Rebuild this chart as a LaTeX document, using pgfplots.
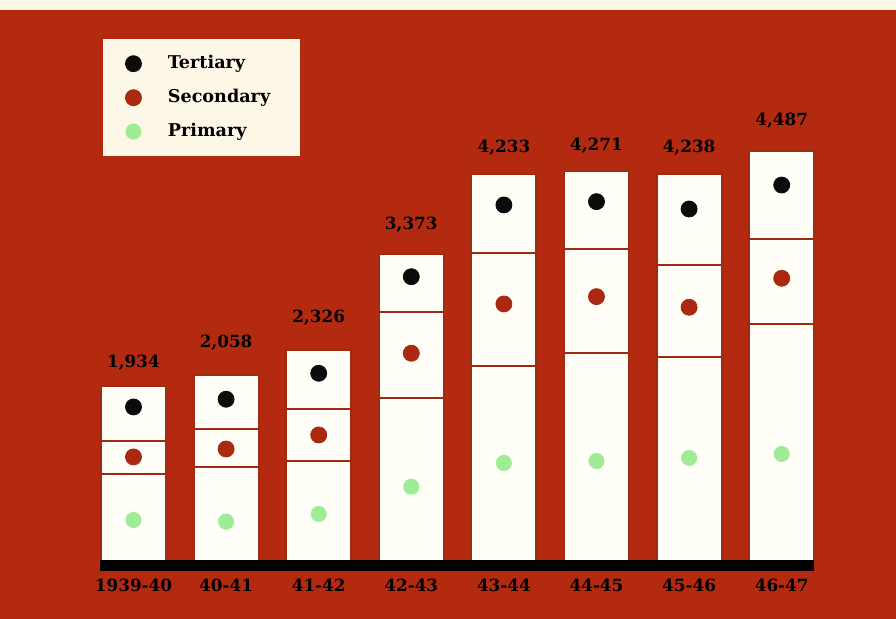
\documentclass[border=0pt]{standalone}
\usepackage{pgfplots}
\pgfplotsset{compat=1.18}
\usepackage{pgfplotstable}
\usepackage{fontspec}
\setmainfont{DejaVu Serif}
\definecolor{bgred}{RGB}{180,42,16}
\definecolor{cream}{RGB}{252,247,230}
\definecolor{barfill}{RGB}{255,254,247}
\definecolor{sepred}{RGB}{160,42,18}
\definecolor{dotred}{RGB}{172,40,16}
\definecolor{dotgreen}{RGB}{160,236,150}
\definecolor{dotblack}{RGB}{12,10,10}

% segment values (Primary, Secondary, Tertiary)
\pgfplotstableread{
x P S T
0 986 357 591
1 1061 409 588
2 1130 556 640
3 1805 938 630
4 2155 1227 851
5 2293 1126 852
6 2256 993 989
7 2607 920 960
}\segs

% dot positions inside the segments
\pgfplotstableread{
x T S P
0 1711 1170 487
1 1795 1256 469
2 2076 1408 552
3 3122 2293 848
4 3899 2827 1105
5 3935 2906 1126
6 3855 2791 1159
7 4115 3105 1202
}\dotpos

% total labels
\pgfplotstableread{
x y lab
0 2188 1,934
1 2404 2,058
2 2675 2,326
3 3682 3,373
4 4522 4,233
5 4538 4,271
6 4516 4,238
7 4809 4,487
}\totals

% category labels
\pgfplotstableread{
x y lab
0 -222 1939-40
1 -222 40-41
2 -222 41-42
3 -222 42-43
4 -222 43-44
5 -222 44-45
6 -222 45-46
7 -222 46-47
}\cats

\pgfplotsset{base/.style={scale only axis, width=448pt, height=309.5pt,
  xmin=-1.4417, xmax=8.2343, ymin=-585, ymax=6119, hide axis, clip=false}}
\newcommand{\lblfont}{\fontsize{8.4}{10}\selectfont\bfseries}
\newcommand{\legfont}{\fontsize{8.8}{10}\selectfont\bfseries}

\begin{document}
\begin{tikzpicture}
\fill[bgred] (0,0) rectangle (448pt,309.5pt);
\fill[cream] (0,304.5pt) rectangle (448pt,309.5pt);
\begin{axis}[base, ybar stacked, bar width=32.5pt]
\addplot[fill=barfill, draw=sepred, line width=1pt] table[x=x,y=P]{\segs};
\addplot[fill=barfill, draw=sepred, line width=1pt] table[x=x,y=S]{\segs};
\addplot[fill=barfill, draw=sepred, line width=1pt] table[x=x,y=T]{\segs};
\end{axis}
\begin{axis}[base,
  legend style={at={(0.1146,0.9381)}, anchor=north west, fill=cream, draw=none,
    font=\legfont, inner xsep=11pt, inner ysep=8.5pt, row sep=9pt,
    nodes={inner sep=0pt, text height=6.2pt, text depth=1.7pt},
    /tikz/every odd column/.append style={column sep=7pt},
    /tikz/every even column/.append style={text width=55.3pt}},
  legend cell align=left,
  legend image code/.code={\path (-4pt,0) (10pt,0); \draw[#1] plot coordinates {(0pt,0pt)};}]
\addplot[black, line width=5.5pt, forget plot] coordinates {(-0.362,-5) (7.35,-5)};
\addplot[only marks, mark=*, mark size=4pt, color=dotblack] table[x=x,y=T]{\dotpos};
\addlegendentry{Tertiary}
\addplot[only marks, mark=*, mark size=4pt, color=dotred, mark options={draw=sepred}] table[x=x,y=S]{\dotpos};
\addlegendentry{Secondary}
\addplot[only marks, mark=*, mark size=3.8pt, color=dotgreen] table[x=x,y=P]{\dotpos};
\addlegendentry{Primary}
\addplot[draw=none, mark=none, forget plot, nodes near coords, point meta=explicit symbolic,
  every node near coord/.style={anchor=center, font=\lblfont, text=black}]
  table[x=x,y=y,meta=lab]{\totals};
\addplot[draw=none, mark=none, forget plot, nodes near coords, point meta=explicit symbolic,
  every node near coord/.style={anchor=center, font=\lblfont, text=black}]
  table[x=x,y=y,meta=lab]{\cats};
\end{axis}
\end{tikzpicture}
\end{document}
